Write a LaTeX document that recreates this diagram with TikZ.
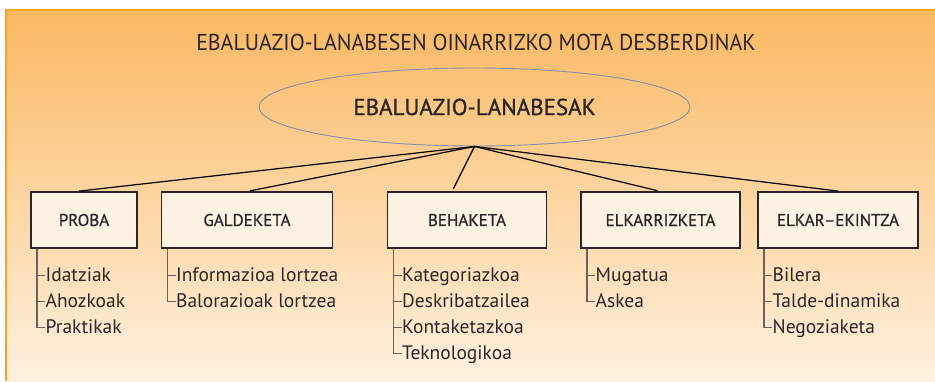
\documentclass[tikz,border=0pt]{standalone}
\usepackage{fontspec}
\setmainfont{PT Sans}
\newfontfamily\titlefont[FakeStretch=0.95]{PT Sans}
\newfontfamily\medfont[FakeBold=0.7]{PT Sans}
\newfontfamily\rootfont[FakeBold=1.1]{PT Sans}
\usetikzlibrary{positioning,shapes.geometric}

\definecolor{bgtop}{HTML}{FBB862}
\definecolor{bgbot}{HTML}{FFF1E0}
\definecolor{bgedge}{HTML}{F7A41E}
\definecolor{boxfill}{HTML}{FEF2E4}
\definecolor{inkgray}{HTML}{2A2626}
\definecolor{ovalline}{HTML}{8090A8}
\definecolor{subline}{HTML}{6E6258}

\tikzset{
  kind/.style={draw=inkgray, line width=1.1pt, fill=boxfill, minimum height=56pt,
    inner sep=0pt, font=\medfont\fontsize{17}{20}\selectfont, text=inkgray},
  item/.style={anchor=west, inner sep=0pt, text height=12pt, text depth=1pt,
    font=\fontsize{19.5}{22}\selectfont, text=inkgray},
  link/.style={line width=1.2pt, black, shorten >=3pt},
  sub/.style={line width=1.3pt, subline}
}

\begin{document}
\begin{tikzpicture}[x=1pt, y=-1pt]
  \useasboundingbox (0,0) rectangle (935,381);
  % background panel
  \fill[top color=bgtop, bottom color=bgbot] (6,10) rectangle (935,381);
  \draw[bgedge, line width=1.2pt] (6,381) -- (6,10) -- (935,10);

  \node[text=inkgray, font=\titlefont\fontsize{23}{27}\selectfont] (title) at (476,42)
    {EBALUAZIO-LANABESEN OINARRIZKO MOTA DESBERDINAK};
  \node[ellipse, draw=ovalline, line width=0.9pt, minimum width=431pt, minimum height=78pt,
    inner sep=0pt, text=inkgray, font=\rootfont\fontsize{23}{26}\selectfont] (root) at (474.5,107)
    {EBALUAZIO-LANABESAK};

  % the five kinds
  \node[kind, minimum width=106pt] (proba) at (84,220) {PROBA};
  \node[kind, minimum width=171pt] (galdeketa) at (247,220) {GALDEKETA};
  \node[kind, minimum width=159pt] (behaketa) at (467,220) {BEHAKETA};
  \node[kind, minimum width=159pt] (elkarrizketa) at (660.5,220) {ELKARRIZKETA};
  \node[kind, minimum width=160pt] (elkarekintza) at (838,220) {ELKAR{\char"2013}EKINTZA};

  \draw[link] (root.south) -- ([xshift=-8pt]proba.north);
  \draw[link] (root.south) -- (galdeketa.north);
  \draw[link] (root.south) -- ([xshift=-15pt]behaketa.north);
  \draw[link] (root.south) -- (elkarrizketa.north);
  \draw[link] (root.south) -- ([xshift=3pt]elkarekintza.north);

  % sub-items
  \foreach \kindname/\list in {
      proba/{Idatziak,Ahozkoak,Praktikak},
      galdeketa/{Informazioa lortzea,Balorazioak lortzea},
      behaketa/{Kategoriazkoa,Deskribatzailea,Kontaketazkoa,Teknologikoa},
      elkarrizketa/{Mugatua,Askea},
      elkarekintza/{Bilera,Talde-dinamika,Negoziaketa}} {
    \coordinate (\kindname-spine) at ([xshift=6.5pt]\kindname.south west);
    \foreach \t [count=\i] in \list {
      \node[item] (\kindname-\i) at ([xshift=15pt, yshift={-27pt-26pt*(\i-1)}]\kindname.south west) {\t};
      \draw[sub] (\kindname-spine |- \kindname-\i.west) -- (\kindname-\i.west);
      \xdef\lastitem{\kindname-\i}
    }
    \draw[sub] (\kindname-spine) -- (\kindname-spine |- \lastitem.west);
  }
\end{tikzpicture}
\end{document}
